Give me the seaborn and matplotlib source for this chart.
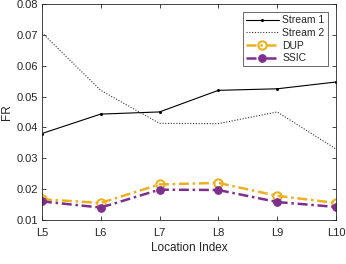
import matplotlib
matplotlib.use("Agg")
import matplotlib.pyplot as plt
import seaborn as sns
import pandas as pd

locations = ["L5", "L6", "L7", "L8", "L9", "L10"]
stream1 = [0.0380, 0.0443, 0.0450, 0.0520, 0.0525, 0.0547]
stream2 = [0.0707, 0.0520, 0.0413, 0.0412, 0.0450, 0.0330]
dup = [0.0167, 0.0155, 0.0215, 0.0220, 0.0178, 0.0155]
ssic = [0.0160, 0.0140, 0.0198, 0.0197, 0.0158, 0.0142]

sns.set_style("white")
plt.rcParams['font.family'] = ['Liberation Sans', 'DejaVu Sans']

fig = plt.figure(figsize=(3.46, 2.64), dpi=100)
ax = fig.add_axes([0.121, 0.167, 0.850, 0.818])

idx = list(range(len(locations)))
df = pd.DataFrame({"x": idx, "Stream 1": stream1, "Stream 2": stream2, "DUP": dup, "SSIC": ssic})

sns.lineplot(data=df, x="x", y="Stream 1", ax=ax, color="black", linewidth=0.8,
             marker="o", markersize=2.2, markeredgewidth=0, label="Stream 1")
sns.lineplot(data=df, x="x", y="Stream 2", ax=ax, color="#333333", linewidth=0.8,
             linestyle=(0, (1, 1.5)), label="Stream 2")
sns.lineplot(data=df, x="x", y="DUP", ax=ax, color="#EDB120", linewidth=1.8,
             linestyle=(0, (4, 1.5, 1, 1.5)), marker="o", markersize=6,
             markerfacecolor="none", markeredgecolor="#EDB120", markeredgewidth=1.5, label="DUP")
sns.lineplot(data=df, x="x", y="SSIC", ax=ax, color="#7E2F8E", linewidth=1.8,
             linestyle=(0, (4, 1.5, 1, 1.5)), marker="o", markersize=5.5,
             markeredgecolor="#7E2F8E", label="SSIC")

ax.set_xlim(0, len(locations) - 1)
ax.set_ylim(0.01, 0.08)
ax.set_xticks(idx)
ax.set_xticklabels(locations)
ax.set_yticks([0.01, 0.02, 0.03, 0.04, 0.05, 0.06, 0.07, 0.08])
ax.set_yticklabels(["0.01", "0.02", "0.03", "0.04", "0.05", "0.06", "0.07", "0.08"])
ax.tick_params(direction="in", length=3, width=0.6, labelsize=8, colors="#262626",
               top=True, right=True, bottom=True, left=True)
ax.tick_params(axis="x", pad=6)
ax.tick_params(axis="y", pad=3)
for s in ax.spines.values():
    s.set_linewidth(0.6)
    s.set_color("#262626")
ax.set_xlabel("Location Index", fontsize=8.5, color="#262626", labelpad=3)
ax.set_ylabel("FR", fontsize=8.5, color="#262626", labelpad=2)

leg = ax.legend(loc="upper right", fontsize=7.5, frameon=True, fancybox=False,
                edgecolor="#262626", handlelength=3.2, handletextpad=0.3,
                borderpad=0.3, labelspacing=0.25, borderaxespad=0.8)
leg.get_frame().set_linewidth(0.6)

fig.savefig("out.png", dpi=100)
